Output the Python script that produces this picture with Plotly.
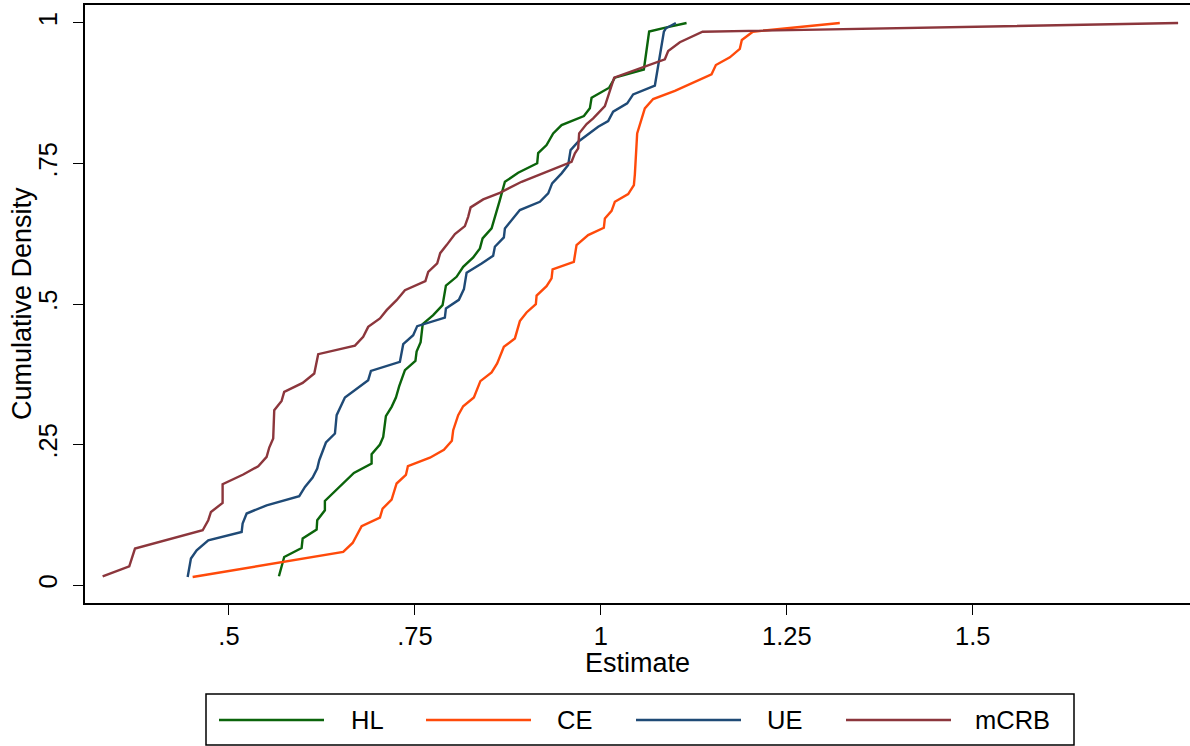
import plotly.graph_objects as go

# ---------------- data ----------------
series_names = ["HL", "CE", "UE", "mCRB"]
series_colors = ["#0b640b", "#ff4a0a", "#1f4a76", "#8c363c"]

hl_x = [0.5672, 0.5708, 0.5743, 0.5977, 0.5991, 0.6179, 0.6187, 0.6290, 0.6290, 0.6680,
        0.6918, 0.6918, 0.7030, 0.7074, 0.7110, 0.7187, 0.7245, 0.7289, 0.7366, 0.7507,
        0.7523, 0.7577, 0.7605, 0.7746, 0.7872, 0.7917, 0.8060, 0.8149, 0.8284, 0.8374,
        0.8410, 0.8531, 0.8566, 0.8598, 0.8642, 0.8710, 0.8888, 0.9144, 0.9157, 0.9270,
        0.9359, 0.9472, 0.9772, 0.9852, 0.9875, 1.0112, 1.0188, 1.0578, 1.0614, 1.0649,
        1.0883, 1.1152]
hl_y = [0.0160, 0.0326, 0.0504, 0.0664, 0.0831, 0.0991, 0.1157, 0.1335, 0.1500, 0.1998,
        0.2165, 0.2331, 0.2504, 0.2639, 0.3007, 0.3173, 0.3340, 0.3541, 0.3826, 0.3991,
        0.4155, 0.4324, 0.4644, 0.4804, 0.4982, 0.5329, 0.5486, 0.5664, 0.5831, 0.5991,
        0.6169, 0.6347, 0.6495, 0.6673, 0.6851, 0.7176, 0.7336, 0.7504, 0.7687, 0.7829,
        0.8037, 0.8185, 0.8345, 0.8482, 0.8671, 0.8849, 0.9027, 0.9173, 0.9550, 0.9849,
        0.9923, 1.0000]

ce_x = [0.4512, 0.6536, 0.6663, 0.6784, 0.7030, 0.7066, 0.7187, 0.7254, 0.7379, 0.7406,
        0.7702, 0.7890, 0.7997, 0.8015, 0.8082, 0.8149, 0.8293, 0.8380, 0.8531, 0.8606,
        0.8696, 0.8844, 0.8911, 0.9001, 0.9126, 0.9136, 0.9270, 0.9337, 0.9351, 0.9637,
        0.9673, 0.9829, 1.0040, 1.0054, 1.0144, 1.0188, 1.0367, 1.0444, 1.0457, 1.0488,
        1.0591, 1.0703, 1.0995, 1.1488, 1.1546, 1.1734, 1.1868, 1.1895, 1.2043, 1.3212]
ce_y = [0.0148, 0.0593, 0.0753, 0.1050, 0.1205, 0.1365, 0.1525, 0.1810, 0.1963, 0.2117,
        0.2269, 0.2411, 0.2571, 0.2758, 0.3025, 0.3185, 0.3340, 0.3630, 0.3785, 0.3945,
        0.4240, 0.4390, 0.4698, 0.4852, 0.5000, 0.5151, 0.5320, 0.5457, 0.5617, 0.5753,
        0.6050, 0.6228, 0.6358, 0.6525, 0.6660, 0.6820, 0.6957, 0.7117, 0.7308, 0.8037,
        0.8482, 0.8648, 0.8794, 0.9089, 0.9253, 0.9390, 0.9541, 0.9698, 0.9845, 1.0000]

ue_x = [0.4445, 0.4489, 0.4566, 0.4722, 0.5171, 0.5184, 0.5238, 0.5507, 0.5945, 0.6022,
        0.6125, 0.6187, 0.6214, 0.6304, 0.6425, 0.6448, 0.6559, 0.6872, 0.6909, 0.7298,
        0.7343, 0.7477, 0.7531, 0.7903, 0.7917, 0.8091, 0.8159, 0.8195, 0.8397, 0.8552,
        0.8575, 0.8696, 0.8710, 0.8911, 0.9180, 0.9292, 0.9345, 0.9472, 0.9560, 0.9593,
        0.9695, 0.9964, 1.0098, 1.0165, 1.0354, 1.0434, 1.0726, 1.0847, 1.0874, 1.1008]
ue_y = [0.0148, 0.0475, 0.0623, 0.0801, 0.0948, 0.1098, 0.1276, 0.1423, 0.1584, 0.1749,
        0.1916, 0.2077, 0.2224, 0.2539, 0.2699, 0.3025, 0.3340, 0.3648, 0.3813, 0.3973,
        0.4288, 0.4448, 0.4609, 0.4760, 0.4923, 0.5076, 0.5267, 0.5557, 0.5724, 0.5859,
        0.6020, 0.6187, 0.6347, 0.6673, 0.6820, 0.6970, 0.7148, 0.7326, 0.7473, 0.7740,
        0.7888, 0.8155, 0.8256, 0.8422, 0.8571, 0.8731, 0.8888, 0.9845, 0.9906, 1.0000]

mcrb_x = [0.3302, 0.3660, 0.3737, 0.4647, 0.4722, 0.4758, 0.4915, 0.4915, 0.5192, 0.5394,
          0.5507, 0.5542, 0.5595, 0.5609, 0.5708, 0.5743, 0.5991, 0.6147, 0.6200, 0.6694,
          0.6805, 0.6872, 0.7030, 0.7120, 0.7254, 0.7366, 0.7641, 0.7679, 0.7800, 0.7840,
          0.7926, 0.8038, 0.8172, 0.8216, 0.8249, 0.8418, 0.8642, 0.8934, 0.9606, 0.9651,
          0.9695, 0.9708, 0.9808, 0.9897, 1.0054, 1.0179, 1.0860, 1.0905, 1.1062, 1.1367,
          1.7760]
mcrb_y = [0.0160, 0.0338, 0.0653, 0.0979, 0.1157, 0.1304, 0.1464, 0.1797, 0.1970, 0.2117,
          0.2283, 0.2450, 0.2610, 0.3114, 0.3279, 0.3440, 0.3600, 0.3767, 0.4110, 0.4262,
          0.4418, 0.4596, 0.4746, 0.4893, 0.5071, 0.5249, 0.5409, 0.5575, 0.5724, 0.5907,
          0.6050, 0.6246, 0.6388, 0.6553, 0.6721, 0.6863, 0.6980, 0.7176, 0.7532, 0.7681,
          0.7770, 0.8037, 0.8203, 0.8304, 0.8523, 0.9027, 0.9354, 0.9502, 0.9657, 0.9845,
          1.0000]

x_tick_vals = [0.5, 0.75, 1, 1.25, 1.5]
x_tick_text = [".5", ".75", "1", "1.25", "1.5"]
y_tick_vals = [0, 0.25, 0.5, 0.75, 1]
y_tick_text = ["0", ".25", ".5", ".75", "1"]

x_title = "Estimate"
y_title = "Cumulative Density"

# ---------------- figure ----------------
W, H = 1190, 746
ML, MR, MT, MB = 85, 0, 5, 143
FONT = "Liberation Sans, Arial, Helvetica, sans-serif"

fig = go.Figure()
xs = [hl_x, ce_x, ue_x, mcrb_x]
ys = [hl_y, ce_y, ue_y, mcrb_y]
for name, col, x, y in zip(series_names, series_colors, xs, ys):
    fig.add_trace(go.Scatter(x=x, y=y, mode="lines", name=name,
                             line=dict(color=col, width=2.4),
                             showlegend=False))

pw = W - ML - MR
ph = H - MT - MB


def px_x(p):
    return (p - ML) / pw


def px_y(p):
    return (H - MB - p) / ph


shapes = []
annotations = []

# legend box (drawn manually to mimic Stata's long line keys)
shapes.append(dict(type="rect", xref="paper", yref="paper",
                   x0=px_x(206), x1=px_x(1074), y0=px_y(745), y1=px_y(694),
                   line=dict(color="black", width=1.5), fillcolor="white", layer="above"))
key_x0 = [219, 426, 636, 846]
label_x = [349, 555, 765, 973]
for name, col, kx, lx in zip(series_names, series_colors, key_x0, label_x):
    shapes.append(dict(type="line", xref="paper", yref="paper",
                       x0=px_x(kx), x1=px_x(kx + 105), y0=px_y(720), y1=px_y(720),
                       line=dict(color=col, width=2.5)))
    annotations.append(dict(text=name, xref="paper", yref="paper",
                            x=px_x(lx), y=px_y(720), xanchor="left", yanchor="middle",
                            showarrow=False, font=dict(size=25.5, color="black", family=FONT)))

# axis titles
annotations.append(dict(text=x_title, xref="paper", yref="paper", x=0.5, y=px_y(663),
                        xanchor="center", yanchor="middle", showarrow=False,
                        font=dict(size=27, color="black", family=FONT)))
annotations.append(dict(text=y_title, xref="paper", yref="paper", x=px_x(22), y=0.5,
                        xanchor="center", yanchor="middle", textangle=-90, showarrow=False,
                        font=dict(size=27, color="black", family=FONT)))

fig.update_layout(
    width=W, height=H,
    margin=dict(l=ML, r=MR, t=MT, b=MB, pad=0, autoexpand=False),
    paper_bgcolor="white", plot_bgcolor="white",
    font=dict(family=FONT, color="black"),
    shapes=shapes, annotations=annotations,
    showlegend=False,
    xaxis=dict(range=[0.3065, 1.792], tickvals=x_tick_vals, ticktext=x_tick_text,
               ticks="outside", ticklen=10, tickwidth=1.2, tickcolor="black",
               showline=True, linecolor="black", linewidth=1.5, mirror=True,
               automargin=False,
               showgrid=False, zeroline=False, tickfont=dict(size=25.5, color="black")),
    yaxis=dict(range=[-0.0315, 1.032], tickvals=y_tick_vals, ticktext=y_tick_text,
               ticks="outside", ticklen=10, tickwidth=1.2, tickcolor="black", tickangle=-90,
               showline=True, linecolor="black", linewidth=1.5, automargin=False,
               ticklabelstandoff=6,
               showgrid=False, zeroline=False, tickfont=dict(size=25.5, color="black")),
)

fig.write_html(
    "out.html",
    config={"displayModeBar": False},
    post_script="document.body.style.margin='0';document.body.style.overflow='hidden';",
)
